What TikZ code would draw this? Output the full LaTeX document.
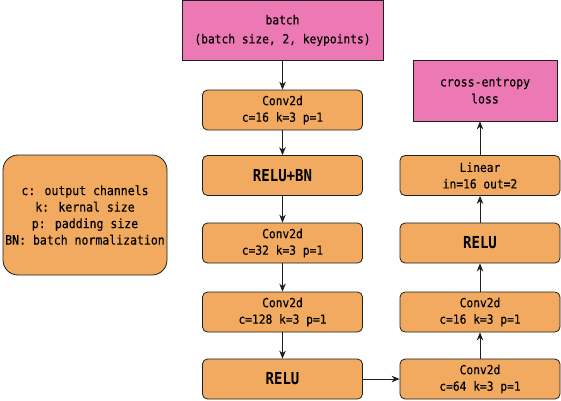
\documentclass[tikz,border=0pt]{standalone}
\usepackage{fontspec}
\setmainfont{DejaVu Sans Mono}[FakeStretch=0.9, FakeBold=0.3]
\newfontfamily\bigfont{DejaVu Sans Mono Bold}[FakeStretch=0.85]
\usetikzlibrary{arrows.meta}
\definecolor{boxorange}{RGB}{241,170,96}
\definecolor{boxpink}{RGB}{236,120,180}
\definecolor{edgecol}{RGB}{30,30,30}
\begin{document}
\begin{tikzpicture}[x=1pt,y=-1pt,
  ob/.style={draw=edgecol, line width=0.8pt, fill=boxorange, rounded corners=5pt,
    minimum width=160pt, minimum height=40pt, align=center, inner sep=0pt,
    font=\fontsize{12.5}{16.5}\selectfont},
  big/.style={font=\bigfont\fontsize{16.5}{18}\selectfont},
  pk/.style={draw=edgecol, line width=0.8pt, fill=boxpink, align=center, inner sep=0pt},
  arr/.style={-{Stealth[length=8pt,width=6.5pt]}, line width=0.8pt, draw=edgecol}]
\useasboundingbox (0,0) rectangle (561,400);
% top input
\node[pk, minimum width=201pt, minimum height=60pt, font=\fontsize{12.5}{19}\selectfont]
  (batch) at (282.5,30.4) {batch\\(batch size, 2, keypoints)};
% left column
\node[ob] (c1) at (282.5,110) {Conv2d\\c=16 k=3 p=1};
\node[ob, big] (rb) at (282.5,175.5) {RELU+BN};
\node[ob] (c2) at (282.5,243) {Conv2d\\c=32 k=3 p=1};
\node[ob] (c3) at (282.5,312) {Conv2d\\c=128 k=3 p=1};
\node[ob, big] (r1) at (282.5,379) {RELU};
% right column
\node[ob] (c4) at (480,379) {Conv2d\\c=64 k=3 p=1};
\node[ob] (c5) at (480,312) {Conv2d\\c=16 k=3 p=1};
\node[ob, big] (r2) at (480,243) {RELU};
\node[ob] (lin) at (480,175.5) {Linear\\in=16 out=2};
\node[pk, minimum width=144pt, minimum height=61pt, font=\fontsize{12.8}{17}\selectfont]
  (loss) at (485,90.5) {cross-entropy\\loss};
% legend
\node[ob, rounded corners=15pt, minimum width=164pt, minimum height=120pt,
  font=\fontsize{12.8}{16.5}\selectfont] (leg) at (85,215)
  {c: output channels\\k: kernal size\\p: padding size\\BN: batch normalization};
% connectors
\draw[arr] (batch.south) -- (c1.north);
\draw[arr] (c1.south) -- (rb.north);
\draw[arr] (rb.south) -- (c2.north);
\draw[arr] (c2.south) -- (c3.north);
\draw[arr] (c3.south) -- (r1.north);
\draw[arr] (r1.east) -- (c4.west);
\draw[arr] (c4.north) -- (c5.south);
\draw[arr] (c5.north) -- (r2.south);
\draw[arr] (r2.north) -- (lin.south);
\draw[arr] (lin.north) -- (lin.north |- loss.south);
\end{tikzpicture}
\end{document}
